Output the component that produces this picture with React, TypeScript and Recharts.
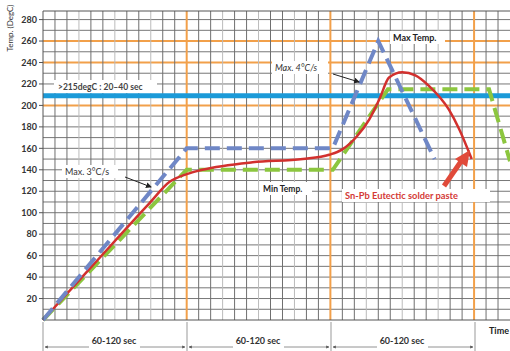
import { LineChart, Line, XAxis, YAxis, ReferenceLine } from 'recharts';

// reflow profile, time in grid cells (each ~5-10 s), temp in degC
const redTime = [0, 4, 8.9, 10.6, 12, 13.3, 17.5, 21.7, 23.9, 25, 26.2, 27.25, 28.1, 28.9, 30, 31.1, 32.25, 33.9, 34.75, 35.8];
const redTemp = [0, 49, 109, 129, 136, 140, 147, 150, 154, 159, 171, 187, 206, 226, 231, 228, 218, 196, 178, 150];

const maxTime = [0, 12, 24.2, 28, 32.7];
const maxTemp = [0, 160, 160, 260, 150];

const minTime = [0, 12, 24.2, 28.8, 37.25, 39];
const minTemp = [0, 140, 140, 215, 215, 148];

const yTicks = [20, 40, 60, 80, 100, 120, 140, 160, 180, 200, 220, 240, 260, 280];
const orangeRows = [200, 240, 260];
const liquidus = 209;

const hLines = Array.from({ length: 28 }, (_, i) => (i + 1) * 10);
const vLines = Array.from({ length: 38 }, (_, i) => i + 1);

const red = redTime.map((t, i) => ({ time: t, temp: redTemp[i] }));
const maxProfile = maxTime.map((t, i) => ({ time: t, temp: maxTemp[i] }));
const minProfile = minTime.map((t, i) => ({ time: t, temp: minTemp[i] }));

const FONT = 'Lato, "DejaVu Sans", sans-serif';

const sections = [
    { left: 43, right: 187 },
    { left: 187, right: 331 },
    { left: 331, right: 475 },
];

export default function App() {
    return (
        <div style={{ position: 'absolute', left: 0, top: 0, width: 510, height: 351, background: '#fff', overflow: 'hidden', fontFamily: FONT }}>
            <LineChart width={510} height={351} margin={{ top: 11, right: 0, bottom: 31, left: 0 }}>
                <XAxis dataKey="time" type="number" domain={[0, 39]} hide allowDuplicatedCategory={false} />
                <YAxis
                    type="number"
                    domain={[0, 288]}
                    ticks={yTicks}
                    width={43}
                    tickSize={4}
                    tickMargin={2}
                    axisLine={{ stroke: '#555' }}
                    tickLine={{ stroke: '#555' }}
                    tick={{ fontSize: 9, fontWeight: 700, fill: '#333', fontFamily: FONT }}
                />
                {hLines.map(v => (
                    <ReferenceLine
                        key={`h${v}`}
                        y={v}
                        stroke={orangeRows.includes(v) ? '#f2a04a' : '#777'}
                        strokeWidth={orangeRows.includes(v) ? 2 : 1}
                    />
                ))}
                {vLines.map(t => (
                    <ReferenceLine
                        key={`v${t}`}
                        x={t}
                        stroke={t % 12 === 0 ? '#f2a04a' : t % 3 === 0 ? '#bbb' : '#6f6f6f'}
                        strokeWidth={t % 12 === 0 ? 2 : 1}
                    />
                ))}
                <ReferenceLine y={288} stroke="#555" />
                <ReferenceLine y={0} stroke="#555" />
                <ReferenceLine y={liquidus} stroke="#1b9ad8" strokeWidth={5} />
                <Line data={minProfile} dataKey="temp" type="linear" stroke="#8cc63f" strokeWidth={4} strokeDasharray="15 7" dot={false} isAnimationActive={false} />
                <Line data={red} dataKey="temp" type="monotone" stroke="#d2302e" strokeWidth={2.5} dot={false} isAnimationActive={false} />
                <Line data={maxProfile} dataKey="temp" type="linear" stroke="#6f87c6" strokeWidth={4} strokeDasharray="15 7" dot={false} isAnimationActive={false} />
            </LineChart>

            <svg width={510} height={351} style={{ position: 'absolute', left: 0, top: 0, pointerEvents: 'none' }}>
                <defs>
                    <marker id="ah" markerWidth="6" markerHeight="6" refX="5" refY="3" orient="auto">
                        <path d="M0,0 L6,3 L0,6 Z" fill="#222" />
                    </marker>
                    <marker id="small" markerWidth="4" markerHeight="4" refX="3.5" refY="2" orient="auto">
                        <path d="M0,0 L4,2 L0,4 Z" fill="#555" />
                    </marker>
                </defs>

                <text x={13} y={28} transform="rotate(-90 13 28)" textAnchor="middle" fontSize={8} fill="#333">Temp. (DegC)</text>

                <rect x={54} y={80} width={103} height={13} fill="#fff" />
                <text x={58} y={90} fontSize={8.5} fontWeight={700} fill="#444">{'>215degC : 20\u201340 sec'}</text>

                <rect x={62} y={165} width={56} height={13} fill="#fff" />
                <text x={65} y={175} fontSize={9} fill="#333">Max. 3°C/s</text>
                <line x1={125} y1={177} x2={151} y2={187} stroke="#222" strokeWidth={1} markerEnd="url(#ah)" />

                <rect x={272} y={61} width={56} height={13} fill="#fff" />
                <text x={275} y={71} fontSize={9} fontStyle="italic" fill="#333">Max. 4°C/s</text>
                <line x1={333} y1={74} x2={359} y2={82} stroke="#222" strokeWidth={1} markerEnd="url(#ah)" />

                <rect x={390} y={31} width={55} height={13} fill="#fff" />
                <text x={393} y={41} fontSize={9} fontWeight={700} fill="#222">Max Temp.</text>

                <rect x={260} y={182} width={52} height={13} fill="#fff" />
                <text x={263} y={192} fontSize={8.5} fontWeight={700} fill="#222">Min Temp.</text>

                <rect x={342} y={189} width={148} height={13} fill="#fff" />
                <text x={345} y={199} fontSize={9.3} fontWeight={700} fill="#d43a36">Sn-Pb Eutectic solder paste</text>
                <line x1={444} y1={186} x2={462} y2={160} stroke="#e04a3a" strokeWidth={5} />
                <path d="M470,150 L455,159 L467,167 Z" fill="#e04a3a" />

                {[43, 187, 331, 475].map(x => (
                    <line key={x} x1={x} y1={322} x2={x} y2={351} stroke="#999" strokeWidth={1} />
                ))}
                {sections.map((s, i) => {
                    const mid = (s.left + s.right) / 2 - 2;
                    return (
                        <g key={i}>
                            <line x1={mid - 24} y1={347} x2={s.left + 2} y2={347} stroke="#777" strokeWidth={0.8} markerEnd="url(#small)" />
                            <line x1={mid + 27} y1={347} x2={s.right - 2} y2={347} stroke="#777" strokeWidth={0.8} markerEnd="url(#small)" />
                            <text x={mid + 1} y={344} textAnchor="middle" fontSize={9} fontWeight={700} fill="#333">60-120 sec</text>
                        </g>
                    );
                })}
                <text x={489} y={334} fontSize={9} fontWeight={700} fill="#222">Time</text>
            </svg>
        </div>
    );
}
